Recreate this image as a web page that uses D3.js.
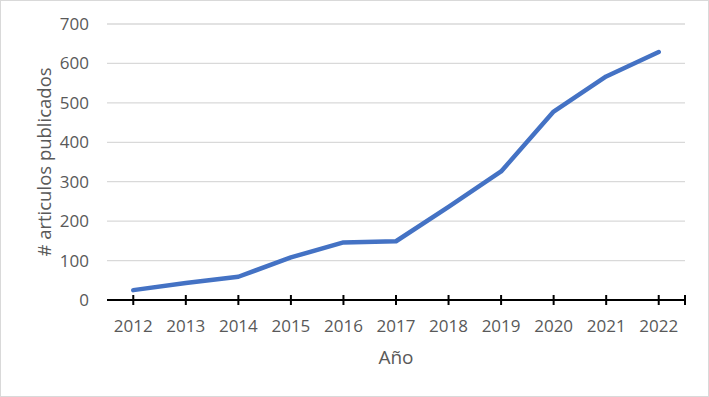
<!DOCTYPE html>
<html>
<head>
<meta charset="utf-8">
<script src="https://cdn.jsdelivr.net/npm/d3@7"></script>
<style>
  body { margin: 0; background: #fff; }
  svg { display: block; font-family: "Open Sans", sans-serif; }
</style>
</head>
<body>
<svg id="chart" width="709" height="397"></svg>
<script>
// Chart size, same as the svg element
const width = 709;
const height = 397;

// Data
const years = ["2012", "2013", "2014", "2015", "2016", "2017", "2018", "2019", "2020", "2021", "2022"];
const articles = [25, 43, 59, 108, 146, 149, 236, 326, 478, 567, 629];
const yTicks = [0, 100, 200, 300, 400, 500, 600, 700];

const margin = { top: 24, right: 24, bottom: 97, left: 107 };

const svg = d3.select("#chart");

// light frame around the whole chart
svg.append("rect")
    .attr("x", 0.5).attr("y", 0.5)
    .attr("width", width - 1).attr("height", height - 1)
    .style("fill", "none")
    .style("stroke", "#d9d9d9");

// band scale: points sit in the middle of each band (Excel style)
const x = d3.scaleBand()
    .domain(years)
    .range([margin.left, width - margin.right]);

const y = d3.scaleLinear()
    .domain([0, 700])
    .range([height - margin.bottom, margin.top]);

const cx = d => x(d) + x.bandwidth() / 2;

// horizontal gridlines
svg.append("g").selectAll("line")
    .data(yTicks.filter(d => d > 0))
    .enter()
    .append("line")
    .attr("x1", margin.left).attr("x2", width - margin.right)
    .attr("y1", d => y(d)).attr("y2", d => y(d))
    .style("stroke", "#d9d9d9")
    .style("stroke-width", 1.3);

// y axis labels
svg.append("g").selectAll("text")
    .data(yTicks)
    .enter()
    .append("text")
    .attr("x", 89)
    .attr("y", d => y(d))
    .attr("dy", "0.35em")
    .attr("text-anchor", "end")
    .style("font-size", "17px")
    .style("fill", "#595959")
    .text(d => d);

// x axis line with crossing ticks
const axisY = y(0);
svg.append("line")
    .attr("x1", margin.left).attr("x2", width - margin.right)
    .attr("y1", axisY).attr("y2", axisY)
    .style("stroke", "#000")
    .style("stroke-width", 2);

const tickXs = years.map(cx).concat([width - margin.right]);
svg.append("g").selectAll("line")
    .data(tickXs)
    .enter()
    .append("line")
    .attr("x1", d => d).attr("x2", d => d)
    .attr("y1", axisY - 5).attr("y2", axisY + 5)
    .style("stroke", "#000")
    .style("stroke-width", 2);

// x axis labels
svg.append("g").selectAll("text")
    .data(years)
    .enter()
    .append("text")
    .attr("x", d => cx(d))
    .attr("y", 332)
    .attr("text-anchor", "middle")
    .style("font-size", "17px")
    .style("fill", "#595959")
    .text(d => d);

// axis titles
svg.append("text")
    .attr("x", (margin.left + width - margin.right) / 2)
    .attr("y", 364)
    .attr("text-anchor", "middle")
    .style("font-size", "19px")
    .style("fill", "#595959")
    .text("Año");

svg.append("text")
    .attr("transform", "translate(45," + ((margin.top + height - margin.bottom) / 2) + ") rotate(-90)")
    .attr("dy", "0.35em")
    .attr("text-anchor", "middle")
    .style("font-size", "18.5px")
    .style("fill", "#595959")
    .text("# articulos publicados");

// the data line
const line = d3.line()
    .x((d, i) => cx(years[i]))
    .y(d => y(d));

svg.append("path")
    .datum(articles)
    .attr("d", line)
    .style("fill", "none")
    .style("stroke", "#4472C4")
    .style("stroke-width", 4.5)
    .style("stroke-linejoin", "round")
    .style("stroke-linecap", "round");
</script>
</body>
</html>
